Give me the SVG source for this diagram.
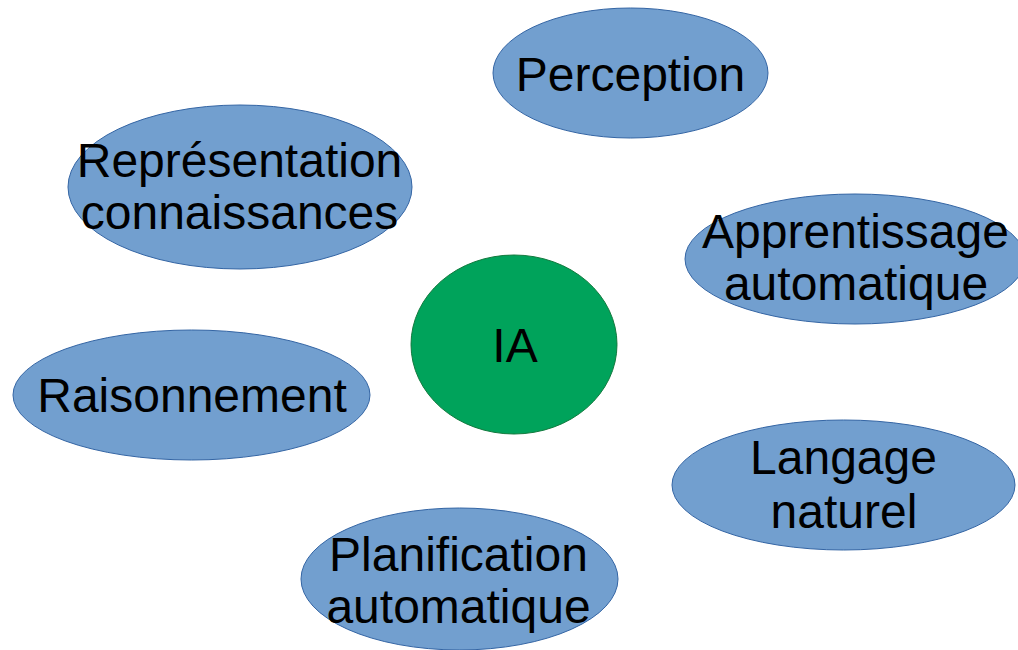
<svg xmlns="http://www.w3.org/2000/svg" width="1018" height="650" viewBox="0 0 1018 650">
<style>
.b{fill:#729fcf;stroke:#3465a4;stroke-width:1}
.g{fill:#00a35b;stroke:#127a3e;stroke-width:1}
text{font-family:"Liberation Sans",Arial,sans-serif;font-size:48px;fill:#000;text-anchor:middle}
</style>
<rect width="1018" height="650" fill="#fff"/>
<g id="connectors"></g>
<g id="perception"><ellipse class="b" cx="630.5" cy="73" rx="137.5" ry="65"/><text x="630.5" y="91">Perception</text></g>
<g id="representation"><ellipse class="b" cx="240" cy="187" rx="172" ry="82"/><text x="239.5" y="177">Représentation</text><text x="239.5" y="229">connaissances</text></g>
<g id="apprentissage"><ellipse class="b" cx="855" cy="259" rx="170" ry="65"/><text x="855.5" y="248">Apprentissage</text><text x="856" y="300">automatique</text></g>
<g id="ia"><ellipse class="g" cx="514" cy="344.5" rx="103" ry="89.5"/><text x="515" y="362">IA</text></g>
<g id="raisonnement"><ellipse class="b" cx="191.5" cy="395" rx="178.5" ry="65"/><text x="192" y="412">Raisonnement</text></g>
<g id="langage"><ellipse class="b" cx="843.5" cy="485" rx="171.5" ry="65"/><text x="843.5" y="474">Langage</text><text x="844" y="528">naturel</text></g>
<g id="planification"><ellipse class="b" cx="459.5" cy="579" rx="158.5" ry="71"/><text x="458.5" y="571">Planification</text><text x="458.5" y="623">automatique</text></g>
</svg>
